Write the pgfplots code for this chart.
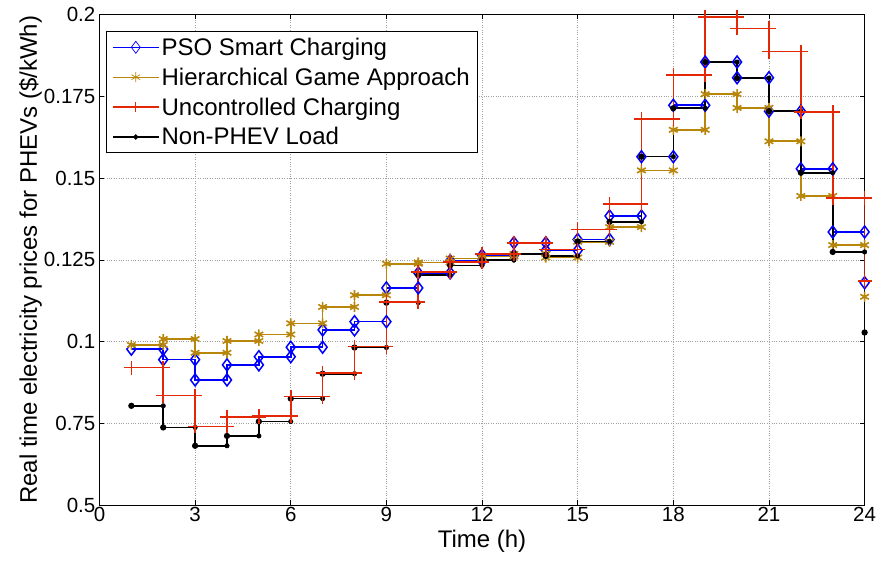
\documentclass[border={19pt 10pt 4pt 3pt}]{standalone}
\usepackage{fontspec}
\setmainfont{Liberation Sans}
\usepackage{pgfplots}
\usepackage{pgfplotstable}
\pgfplotsset{compat=1.18}
\definecolor{psoblue}{RGB}{0,0,255}
\definecolor{gold}{RGB}{184,134,11}
\definecolor{ured}{RGB}{228,40,5}
\pgfplotstableread{
h y
1 0.0977
2 0.0945
3 0.0883
4 0.0929
5 0.0954
6 0.0983
7 0.1036
8 0.1061
9 0.1164
10 0.1210
11 0.1247
12 0.1264
13 0.1302
14 0.1279
15 0.1312
16 0.1384
17 0.1565
18 0.1722
19 0.1854
20 0.1806
21 0.1704
22 0.1528
23 0.1335
24 0.1180
}\pso
\pgfplotstableread{
h y
1 0.0990
2 0.1008
3 0.0966
4 0.1002
5 0.1022
6 0.1056
7 0.1106
8 0.1142
9 0.1238
10 0.1242
11 0.1254
12 0.1260
13 0.1268
14 0.1257
15 0.1305
16 0.1350
17 0.1523
18 0.1647
19 0.1756
20 0.1714
21 0.1612
22 0.1445
23 0.1295
24 0.1137
}\game
\pgfplotstableread{
h y
1 0.0921
2 0.0835
3 0.0741
4 0.0770
5 0.0773
6 0.0832
7 0.0905
8 0.0985
9 0.1122
10 0.1213
11 0.1244
12 0.1268
13 0.1302
14 0.1281
15 0.1343
16 0.1420
17 0.1680
18 0.1815
19 0.1991
20 0.1957
21 0.1886
22 0.1701
23 0.1439
24 0.1185
}\unc
\pgfplotstableread{
h y
1 0.0804
2 0.0738
3 0.0682
4 0.0712
5 0.0756
6 0.0826
7 0.0902
8 0.0982
9 0.1119
10 0.1204
11 0.1233
12 0.1249
13 0.1268
14 0.1262
15 0.1306
16 0.1366
17 0.1565
18 0.1713
19 0.1854
20 0.1805
21 0.1704
22 0.1516
23 0.1274
24 0.1028
}\nonphev
\begin{document}
\begin{tikzpicture}
\begin{axis}[
  scale only axis,
  width=765pt, height=491pt,
  xmin=0, xmax=24, ymin=0.05, ymax=0.2,
  xtick={0,3,...,24},
  ytick={0.05,0.075,0.1,0.125,0.15,0.175,0.2},
  yticklabels={0.5,0.75,0.1,0.125,0.15,0.175,0.2},
  /pgf/number format/assume math mode=true,
  xticklabel style={font=\fontsize{20.5}{22}\selectfont, inner sep=2pt},
  yticklabel style={font=\fontsize{20.5}{22}\selectfont, inner sep=4pt},
  xlabel style={font=\fontsize{24}{26}\selectfont, inner sep=0pt, yshift=-6pt},
  ylabel style={font=\fontsize{24}{26}\selectfont, inner sep=0pt, yshift=-2pt},
  xlabel={Time (h)},
  ylabel={Real time electricity prices for PHEVs (\$/kWh)},
  grid=major,
  major grid style={gray!75, dotted, line width=0.6pt},
  tick align=inside,
  major tick length=5pt,
  axis line style={line width=0.8pt},
  every tick/.style={black, line width=0.6pt},
  legend style={at={(0.008,0.965)}, anchor=north west, draw=black, line width=0.8pt,
    font=\fontsize{24}{26}\selectfont, row sep=7pt, inner xsep=6pt, inner ysep=4pt, cells={anchor=west}},
  legend cell align=left,
]
% PSO
\addplot[psoblue, line width=1.6pt, const plot, mark=diamond, mark size=6pt, mark options={line width=1.5pt, fill=none}, forget plot] table[x=h,y=y] {\pso};
\addplot[psoblue, only marks, mark=diamond, mark size=6pt, mark options={line width=1.5pt}, restrict x to domain=0:24, forget plot] table[x expr=\thisrow{h}+1,y=y] {\pso};
% Game
\addplot[gold, line width=1.6pt, const plot, mark=asterisk, mark size=5pt, mark options={line width=1.6pt}, forget plot] table[x=h,y=y] {\game};
\addplot[gold, only marks, mark=asterisk, mark size=5pt, mark options={line width=1.6pt}, restrict x to domain=0:24, forget plot] table[x expr=\thisrow{h}+1,y=y] {\game};
% Non-PHEV
\addplot[black, line width=1.6pt, const plot, mark=*, mark size=2.3pt, forget plot] table[x=h,y=y] {\nonphev};
\addplot[black, only marks, mark=*, mark size=2.3pt, restrict x to domain=0:24, forget plot] table[x expr=\thisrow{h}+1,y=y] {\nonphev};
% Uncontrolled
\addplot[ured, line width=1.6pt, const plot, mark=+, mark size=7pt, mark options={line width=1.6pt}, forget plot] table[x=h,y=y] {\unc};
\addplot[ured, only marks, mark=+, mark size=7pt, mark options={line width=1.6pt}, restrict x to domain=0:24, forget plot] table[x expr=\thisrow{h}+1,y=y] {\unc};
% legend
\addlegendimage{psoblue, line width=0.7pt, mark=diamond, mark size=6pt, mark options={line width=0.7pt}, legend image code/.code={\draw[mark repeat=2,mark phase=2] plot coordinates {(0pt,0pt) (23pt,0pt) (46pt,0pt)};}}
\addlegendentry{PSO Smart Charging}
\addlegendimage{gold, line width=0.7pt, mark=asterisk, mark size=5pt, mark options={line width=0.7pt}, legend image code/.code={\draw[mark repeat=2,mark phase=2] plot coordinates {(0pt,0pt) (23pt,0pt) (46pt,0pt)};}}
\addlegendentry{Hierarchical Game Approach}
\addlegendimage{ured, line width=1.6pt, mark=+, mark size=5pt, mark options={line width=1.2pt}, legend image code/.code={\draw[mark repeat=2,mark phase=2] plot coordinates {(0pt,0pt) (23pt,0pt) (46pt,0pt)};}}
\addlegendentry{Uncontrolled Charging}
\addlegendimage{black, line width=1.6pt, mark=*, mark size=1.8pt, legend image code/.code={\draw[mark repeat=2,mark phase=2] plot coordinates {(0pt,0pt) (23pt,0pt) (46pt,0pt)};}}
\addlegendentry{Non-PHEV Load}
\end{axis}
\end{tikzpicture}
\end{document}
